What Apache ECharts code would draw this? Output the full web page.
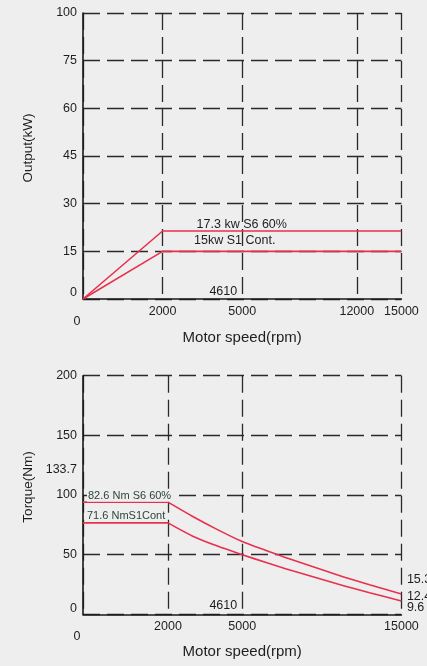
<!DOCTYPE html>
<html><head><meta charset="utf-8">
<script src="https://cdn.jsdelivr.net/npm/echarts@6/dist/echarts.min.js"></script>
<style>html,body{margin:0;padding:0;background:#eeeeee}#c{width:427px;height:666px}</style>
</head><body><div id="c"></div>
<script>
// ---------- Top chart: output power ----------
const speedTicksTop = [0, 2000, 5000, 12000, 15000];
const speedTickPosTop = [0, 0.25, 0.5, 0.86, 1];      // broken (non-linear) speed axis
const powerTicks = [0, 15, 30, 45, 60, 75, 100];       // evenly spaced tick labels
const powerS6 = [[0, 0], [2000, 21.4], [15000, 21.4]];
const powerS1 = [[0, 0], [2000, 15], [15000, 15]];

// ---------- Bottom chart: torque ----------
const speedTicksBot = [0, 2000, 5000, 15000];
const speedTickPosBot = [0, 0.267, 0.5, 1];
const torqueTickLabels = [0, 50, 100, 121, 150, 200];
const torqueTickText = ['0', '50', '100', '133.7', '150', '200'];
const torqueS6 = [[0, 94], [2000, 94], [3000, 82], [4000, 71], [5000, 61], [6500, 53.5], [8000, 46.3], [11000, 33], [13000, 24.8], [15000, 17]];
const torqueS1 = [[0, 76.6], [2000, 76.6], [3000, 65.5], [4000, 57.2], [5000, 50], [6500, 43.4], [8000, 37.1], [11000, 25.4], [13000, 18.1], [15000, 11.2]];

const RED = '#e8304e';
const FONT = "'Liberation Sans', Arial, sans-serif";
const TXT = '#1e1e1e';

function interp(v, from, to) {
  for (let i = 0; i < from.length - 1; i++) {
    if (v <= from[i + 1] || i === from.length - 2) {
      const t = (v - from[i]) / (from[i + 1] - from[i]);
      return to[i] + t * (to[i + 1] - to[i]);
    }
  }
}
const topX = s => interp(s, speedTicksTop, speedTickPosTop);
const topY = p => interp(p, powerTicks, powerTicks.map((_, i) => i));
const botX = s => interp(s, speedTicksBot, speedTickPosBot);

function lookup(v, positions, labels) {
  const i = positions.findIndex(p => Math.abs(p - v) < 1e-6);
  return i < 0 ? '' : String(labels[i]);
}

const gridDash = { color: '#2a2a2a', width: 1.3, type: [17, 7] };
const axisLine = { show: true, onZero: false, lineStyle: { color: '#1a1a1a', width: 1.6 } };

function xAxis(gridIndex, pos, ticks, nameGap) {
  return {
    type: 'value', gridIndex, min: 0, max: 1,
    name: 'Motor speed(rpm)', nameLocation: 'middle', nameGap,
    nameTextStyle: { fontFamily: FONT, fontSize: 15, color: TXT },
    axisLine,
    axisTick: { show: false, customValues: pos },
    splitLine: { show: true, lineStyle: gridDash },
    axisLabel: {
      customValues: pos, margin: 6, fontFamily: FONT, fontSize: 12.5, color: TXT,
      formatter: v => {
        const s = lookup(v, pos, ticks);
        return s === '0' ? '{z|0}' : s;
      },
      rich: { z: { padding: [10, 12, 0, 0], fontFamily: FONT, fontSize: 12.5, color: TXT } }
    }
  };
}

const yLabelCommon = {
  margin: 6, fontFamily: FONT, fontSize: 12.5, color: TXT,
  rich: { z: { padding: [0, 0, 12, 0], fontFamily: FONT, fontSize: 12.5, color: TXT } }
};

const option = {
  backgroundColor: '#eeeeee',
  animation: false,
  grid: [
    { left: 83, top: 13, width: 318.4, height: 286 },
    { left: 83, top: 375.7, width: 318.4, height: 238.6 }
  ],
  xAxis: [
    xAxis(0, speedTickPosTop, speedTicksTop, 31),
    xAxis(1, speedTickPosBot, speedTicksBot, 27)
  ],
  yAxis: [
    {
      type: 'value', gridIndex: 0, min: 0, max: powerTicks.length - 1, interval: 1,
      name: 'Output(kW)', nameLocation: 'middle', nameGap: 48,
      nameTextStyle: { fontFamily: FONT, fontSize: 13.5, color: TXT, padding: [0, 0, 0, 16] },
      axisLine, axisTick: { show: false },
      splitLine: { show: true, lineStyle: gridDash },
      axisLabel: Object.assign({}, yLabelCommon, {
        formatter: v => { const s = String(powerTicks[Math.round(v)]); return s === '0' ? '{z|0}' : s; }
      })
    },
    {
      type: 'value', gridIndex: 1, min: 0, max: 200, interval: 50,
      name: 'Torque(Nm)', nameLocation: 'middle', nameGap: 48,
      nameTextStyle: { fontFamily: FONT, fontSize: 13.5, color: TXT, padding: [0, 0, 0, 16] },
      axisLine, axisTick: { show: false },
      splitLine: { show: true, lineStyle: gridDash },
      axisLabel: Object.assign({}, yLabelCommon, {
        customValues: torqueTickLabels,
        formatter: v => { const s = lookup(v, torqueTickLabels, torqueTickText); return s === '0' ? '{z|0}' : s; }
      })
    }
  ],
  series: [
    { type: 'line', xAxisIndex: 0, yAxisIndex: 0, symbol: 'none', lineStyle: { color: RED, width: 1.6 },
      data: powerS6.map(([s, p]) => [topX(s), topY(p)]) },
    { type: 'line', xAxisIndex: 0, yAxisIndex: 0, symbol: 'none', lineStyle: { color: RED, width: 1.6 },
      data: powerS1.map(([s, p]) => [topX(s), topY(p)]) },
    // torque: constant part + smooth falling part
    ...[torqueS6, torqueS1].flatMap(arr => {
      const k = arr.findIndex(d => d[0] === 2000);
      return [
        { type: 'line', xAxisIndex: 1, yAxisIndex: 1, symbol: 'none', lineStyle: { color: RED, width: 1.6 },
          data: arr.slice(0, k + 1).map(([s, t]) => [botX(s), t]) },
        { type: 'line', xAxisIndex: 1, yAxisIndex: 1, symbol: 'none', smooth: 0.3, lineStyle: { color: RED, width: 1.6 },
          data: arr.slice(k).map(([s, t]) => [botX(s), t]) }
      ];
    })
  ]
};

const chart = echarts.init(document.getElementById('c'), null, { renderer: 'canvas' });
chart.setOption(option);

// annotations anchored to data points (offsets in px)
const notes = [
  { g: 0, at: [topX(2000), topY(21.4)], dx: 34, dy: -6, text: '17.3 kw S6 60%', align: 'left', size: 12.5 },
  { g: 0, at: [topX(2000), topY(15)], dx: 31.5, dy: -10.5, text: '15kw S1 Cont.', align: 'left', size: 12.5 },
  { g: 0, at: [topX(5000), topY(0)], dx: -5, dy: -7.5, text: '4610', align: 'right', size: 12.5 },
  { g: 1, at: [botX(0), 94], dx: 4, dy: -6, text: '82.6 Nm S6 60%', align: 'left', size: 11, color: '#2b4438', bg: true },
  { g: 1, at: [botX(0), 76.6], dx: 4, dy: -7, text: '71.6 NmS1Cont', align: 'left', size: 11, color: '#2b4438' },
  { g: 1, at: [botX(5000), 0], dx: -5, dy: -9, text: '4610', align: 'right', size: 12.5 },
  { g: 1, at: [botX(15000), 17], dx: 5.5, dy: -14, text: '15.3', align: 'left', size: 12.5 },
  { g: 1, at: [botX(15000), 11.2], dx: 5.5, dy: -4, text: '12.4', align: 'left', size: 12.5 },
  { g: 1, at: [botX(15000), 11.2], dx: 5.5, dy: 6.5, text: '9.6', align: 'left', size: 12.5 }
];
chart.setOption({
  graphic: notes.map(n => {
    const p = chart.convertToPixel({ gridIndex: n.g }, n.at);
    return {
      type: 'text', z: 100, x: p[0] + n.dx, y: p[1] + n.dy,
      style: {
        text: n.text, fill: n.color || TXT, font: n.size + 'px ' + FONT,
        align: n.align, verticalAlign: 'middle',
        backgroundColor: n.bg ? '#eeeeee' : undefined, padding: n.bg ? [0, 1] : 0
      }
    };
  })
});
</script></body></html>
